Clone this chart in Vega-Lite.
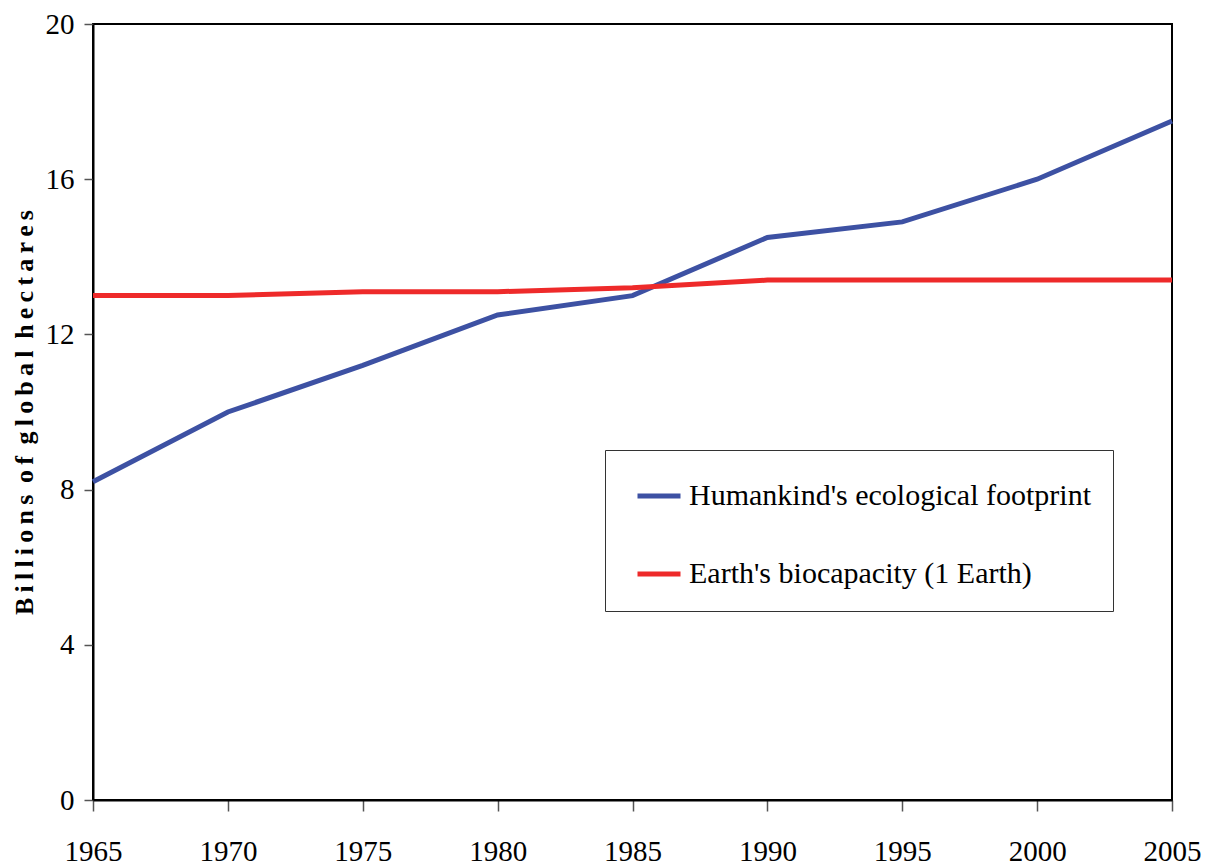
{
  "$schema": "https://vega.github.io/schema/vega-lite/v6.json",
  "width": 1079,
  "height": 776,
  "autosize": "none",
  "padding": {"left": 93, "top": 24, "right": 33, "bottom": 68},
  "background": "white",
  "config": {
    "view": {"stroke": "black", "strokeWidth": 2},
    "font": "Liberation Serif"
  },
  "data": {
    "values": [
      {"year": 1965, "value": 8.2, "series": "Humankind's ecological footprint"},
      {"year": 1970, "value": 10.0, "series": "Humankind's ecological footprint"},
      {"year": 1975, "value": 11.2, "series": "Humankind's ecological footprint"},
      {"year": 1980, "value": 12.5, "series": "Humankind's ecological footprint"},
      {"year": 1985, "value": 13.0, "series": "Humankind's ecological footprint"},
      {"year": 1990, "value": 14.5, "series": "Humankind's ecological footprint"},
      {"year": 1995, "value": 14.9, "series": "Humankind's ecological footprint"},
      {"year": 2000, "value": 16.0, "series": "Humankind's ecological footprint"},
      {"year": 2005, "value": 17.5, "series": "Humankind's ecological footprint"},
      {"year": 1965, "value": 13.0, "series": "Earth's biocapacity (1 Earth)"},
      {"year": 1970, "value": 13.0, "series": "Earth's biocapacity (1 Earth)"},
      {"year": 1975, "value": 13.1, "series": "Earth's biocapacity (1 Earth)"},
      {"year": 1980, "value": 13.1, "series": "Earth's biocapacity (1 Earth)"},
      {"year": 1985, "value": 13.2, "series": "Earth's biocapacity (1 Earth)"},
      {"year": 1990, "value": 13.4, "series": "Earth's biocapacity (1 Earth)"},
      {"year": 1995, "value": 13.4, "series": "Earth's biocapacity (1 Earth)"},
      {"year": 2000, "value": 13.4, "series": "Earth's biocapacity (1 Earth)"},
      {"year": 2005, "value": 13.4, "series": "Earth's biocapacity (1 Earth)"}
    ]
  },
  "mark": {"type": "line", "strokeWidth": 5, "strokeCap": "butt"},
  "encoding": {
    "x": {
      "field": "year",
      "type": "quantitative",
      "scale": {"domain": [1965, 2005], "nice": false, "zero": false},
      "axis": {
        "values": [1965, 1970, 1975, 1980, 1985, 1990, 1995, 2000, 2005],
        "format": "d",
        "title": null,
        "grid": false,
        "domainColor": "black",
        "domainWidth": 2,
        "tickColor": "#555555",
        "tickWidth": 1.5,
        "tickSize": 11,
        "labelFont": "Liberation Serif",
        "labelFontSize": 29,
        "labelColor": "black",
        "labelPadding": 26,
        "labelFlush": false,
        "labelOverlap": false
      }
    },
    "y": {
      "field": "value",
      "type": "quantitative",
      "scale": {"domain": [0, 20], "nice": false},
      "axis": {
        "values": [0, 4, 8, 12, 16, 20],
        "title": "B\u2009i\u2009l\u2009l\u2009i\u2009o\u2009n\u2009s \u2009o\u2009f \u2009g\u2009l\u2009o\u2009b\u2009a\u2009l \u2009h\u2009e\u2009c\u2009t\u2009a\u2009r\u2009e\u2009s",
        "titleFont": "Liberation Serif",
        "titleFontSize": 26,
        "titleFontWeight": "bold",
        "titleColor": "black",
        "titlePadding": 8,
        "grid": false,
        "domainColor": "black",
        "domainWidth": 2,
        "tickColor": "#555555",
        "tickWidth": 1.5,
        "tickSize": 9,
        "labelFont": "Liberation Serif",
        "labelFontSize": 29,
        "labelColor": "black",
        "labelPadding": 10
      }
    },
    "color": {
      "field": "series",
      "type": "nominal",
      "scale": {
        "domain": ["Humankind's ecological footprint", "Earth's biocapacity (1 Earth)"],
        "range": ["#3D51A3", "#EE2A2A"]
      },
      "legend": {
        "title": null,
        "orient": "none",
        "legendX": 512,
        "legendY": 426,
        "strokeColor": "#333333",
        "fillColor": "white",
        "padding": 22,
        "symbolOffset": 8,
        "symbolType": "stroke",
        "symbolSize": 1849,
        "symbolStrokeWidth": 5,
        "labelFont": "Liberation Serif",
        "labelFontSize": 30,
        "labelColor": "black",
        "labelLimit": 600,
        "rowPadding": 39,
        "labelOffset": 6
      }
    }
  }
}
